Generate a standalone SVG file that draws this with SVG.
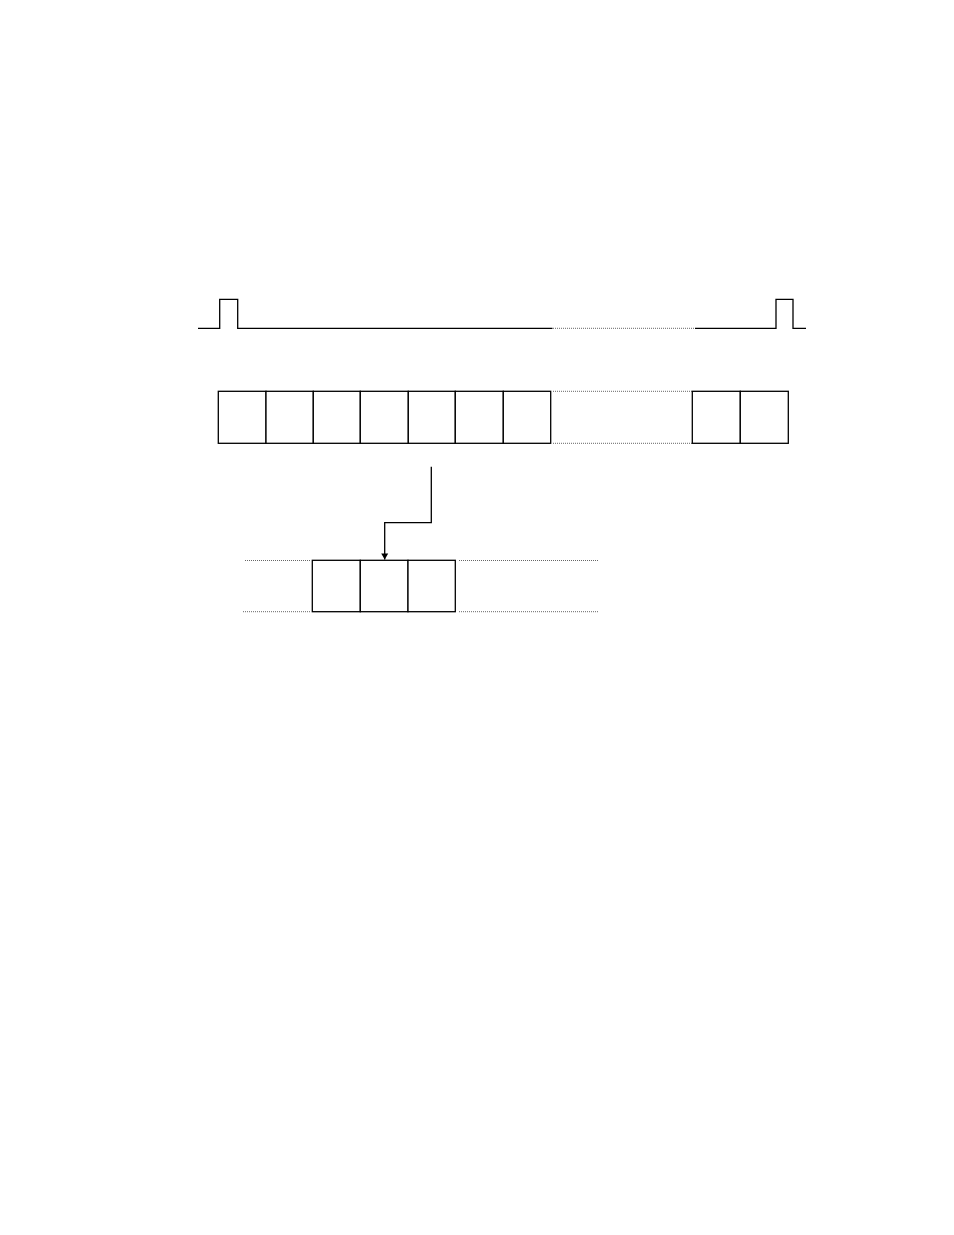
<svg xmlns="http://www.w3.org/2000/svg" width="954" height="1235" viewBox="0 0 954 1235">
<style>
.s{fill:none;stroke:#000;stroke-width:1.3}
.d{fill:none;stroke:#666;stroke-width:1;stroke-dasharray:1 1}
.b{fill:#fff;stroke:#000;stroke-width:1.3}
</style>
<defs>
<marker id="ah" markerWidth="8" markerHeight="8" refX="7" refY="4" orient="auto" markerUnits="userSpaceOnUse">
<path d="M1,0.5 L7,4 L1,7.5 Z" fill="#000"/>
</marker>
</defs>
<rect width="954" height="1235" fill="#fff"/>
<g id="waveform">
<path class="s" d="M198,328.3 H219.7 V299.3 H237.7 V328.3 H552.5"/>
<path class="d" d="M553,328.3 H694.5"/>
<path class="s" d="M695,328.3 H776 V299.3 H793 V328.3 H806"/>
</g>
<g id="frame">
<rect class="b" x="218.3" y="391.3" width="47.7" height="52"/>
<rect class="b" x="266" y="391.3" width="47.3" height="52"/>
<rect class="b" x="313.3" y="391.3" width="47" height="52"/>
<rect class="b" x="360.3" y="391.3" width="48" height="52"/>
<rect class="b" x="408.3" y="391.3" width="47" height="52"/>
<rect class="b" x="455.3" y="391.3" width="48" height="52"/>
<rect class="b" x="503.3" y="391.3" width="47.4" height="52"/>
<path class="d" d="M553,391.3 H692 M553,443.3 H692"/>
<rect class="b" x="692.3" y="391.3" width="48" height="52"/>
<rect class="b" x="740.3" y="391.3" width="48" height="52"/>
</g>
<g id="subframe">
<path class="d" d="M245,560.5 H311 M243,611.7 H311"/>
<rect class="b" x="312.3" y="560.3" width="48" height="51.4"/>
<rect class="b" x="360.3" y="560.3" width="47.7" height="51.4"/>
<rect class="b" x="408" y="560.3" width="47.3" height="51.4"/>
<path class="d" d="M459,560.5 H598 M459,611.7 H598"/>
</g>
<g id="connectors">
<path class="s" d="M431.3,466.7 V522.7 H384.7 V559.5" marker-end="url(#ah)"/>
</g>
</svg>
